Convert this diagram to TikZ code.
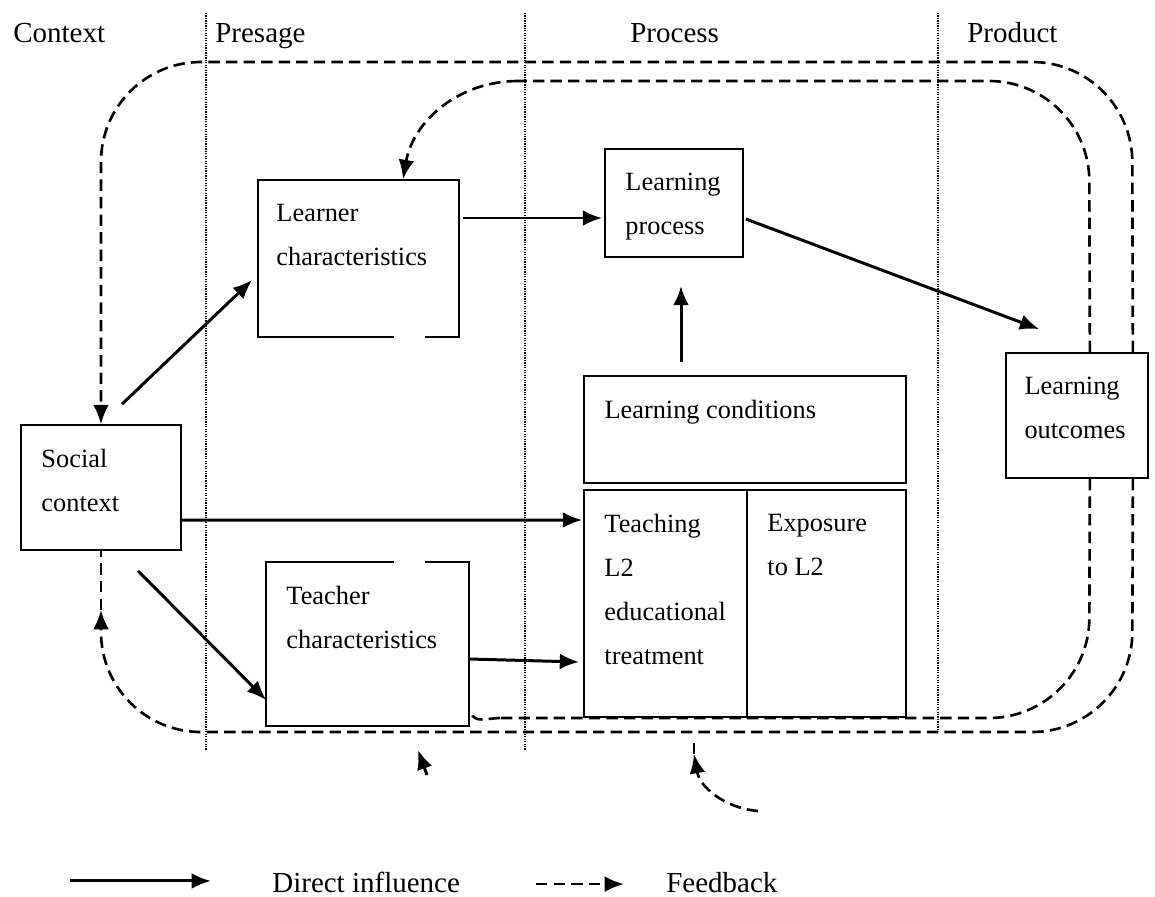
\documentclass[tikz,border=0pt]{standalone}
\usepackage{fontspec}
\setmainfont{Liberation Serif}
\usetikzlibrary{arrows.meta,calc,positioning}

\begin{document}
\begin{tikzpicture}[x=0.02cm,y=-0.02cm]
\tikzstyle{every node}=[font=\fontsize{15}{25}\selectfont]
\tikzstyle{box}=[draw, line width=1pt, inner sep=0pt]
\tikzstyle{boxtext}=[anchor=north west, inner sep=0pt, align=left]
\tikzstyle{heading}=[anchor=base west, inner sep=0pt, font=\fontsize{16.5}{20}\selectfont]
\tikzstyle{zone}=[line width=0.9pt, dash pattern=on 0.7pt off 0.7pt]
\tikzstyle{influence}=[line width=1.7pt, -{Latex[length=11pt,width=9pt]}]
\tikzstyle{feedback}=[line width=1.5pt, dash pattern=on 6.5pt off 3.5pt]
\tikzstyle{feedarrow}=[feedback, -{Latex[length=11pt,width=9pt]}]

\useasboundingbox (0,0) rectangle (1155,896);

% stages
\node[heading] (context) at (13,42) {Context};
\node[heading] (presage) at (215,42) {Presage};
\node[heading] (process) at (630,42) {Process};
\node[heading] (product) at (967,42) {Product};

\draw[zone] (206,13) -- (206,750);
\draw[zone] (525,13) -- (525,750);
\draw[zone] (938,13) -- (938,730);

% boxes
\node[box, minimum width=3.2cm, minimum height=2.5cm] at (101,487.5) (social) {};
\node[boxtext] at ($(social.north west)+(21,25)$) (socialtext) {Social\\context};

\node[box, minimum width=4.02cm, minimum height=3.14cm] at (358.5,258.5) (learner) {};
\node[boxtext] at ($(learner.north west)+(19,25)$) (learnertext) {Learner\\characteristics};
\draw[white, line width=3pt] (394,337) -- (425,337);

\node[box, minimum width=4.06cm, minimum height=3.28cm] at (367.5,644) (teacher) {};
\node[boxtext] at ($(teacher.north west)+(21,25)$) (teachertext) {Teacher\\characteristics};
\draw[white, line width=3pt] (394,562) -- (425,562);

\node[box, minimum width=2.76cm, minimum height=2.16cm] at (674,203) (lproc) {};
\node[boxtext] at ($(lproc.north west)+(21,25)$) (lproctext) {Learning\\process};

\node[box, minimum width=6.44cm, minimum height=2.14cm] at (745,429.5) (lcond) {};
\node[boxtext] at ($(lcond.north west)+(21,25)$) (lcondtext) {Learning conditions};

\node[box, minimum width=3.26cm, minimum height=4.54cm] at (665.5,603.5) (teach) {};
\node[boxtext] at ($(teach.north west)+(21,25)$) (teachtext) {Teaching\\L2\\educational\\treatment};

\node[box, minimum width=3.18cm, minimum height=4.54cm, right=-1pt of teach] (expo) {};
\node[boxtext] at ($(expo.north west)+(21,25)$) (expotext) {Exposure\\to L2};

\node[box, minimum width=2.84cm, minimum height=2.5cm] at (1077,415.5) (outcome) {};
\node[boxtext] at ($(outcome.north west)+(19,25)$) (outcometext) {Learning\\outcomes};

% direct influence
\draw[influence] ($(social.north)+(21,-20)$) -- ($(learner.west)+(-5,21.5)$);
\draw[influence] ($(social.south)+(37,20)$) -- ($(teacher.west)+(1,56)$);
\draw[influence] ($(social.east)+(0,32.5)$) -- ($(teach.west)+(-1,-83.5)$);
\draw[influence] ($(learner.east)+(3,-40.5)$) -- ($(lproc.west)+(-2,15)$);
\draw[influence] ($(lcond.north)+(-64,-13)$) -- ($(lproc.south)+(7,28)$);
\draw[influence] ($(lproc.east)+(2,16)$) -- ($(outcome.north west)+(34,-23)$);
\draw[influence] ($(teacher.east)+(0,15)$) -- ($(teach.west)+(-4,58.5)$);

% feedback loops
\draw[feedarrow, rounded corners=2cm] ($(outcome.north east)+(-16,0)$) -- (1132,62) -- (101,62) -- (social.north);
\coordinate (backsoc) at (101,610);
\draw[feedarrow, rounded corners=2cm] ($(outcome.south east)+(-16,0)$) -- (1132,732) -- (101,732) -- (backsoc);
\draw[feedback] (backsoc) -- (social.south);

\coordinate (innertop) at (518,81);
\draw[feedback, rounded corners=2cm] ($(outcome.north east)+(-59,0)$) -- (1089,81) -- (innertop);
\draw[feedarrow] (innertop) to[out=180,in=80] ($(learner.north)+(44.5,0)$);
\coordinate (backteach) at (500,718);
\draw[feedback, rounded corners=2cm] ($(outcome.south east)+(-59,0)$) -- (1089,718) -- (backteach);
\draw[feedback] (backteach) to[out=180,in=-70] ($(teacher.south east)+(1,-14)$);

\coordinate (stubstart) at (758,811);
\coordinate (stubtip) at (694,754);
\coordinate (stubend) at (694,740);
\draw[feedarrow] (stubstart) to[out=175,in=-80] (stubtip);
\draw[feedback] (stubtip) -- (stubend);

\coordinate (dartstart) at (427,775);
\coordinate (darttip) at (418,750);
\draw[influence] (dartstart) -- (darttip);

% legend
\node[heading] at (272,892) (directlbl) {Direct influence};
\draw[influence] ($(directlbl.west)+(-202,-1)$) -- ($(directlbl.west)+(-61,-1)$);
\node[heading] at (666,892) (feedbacklbl) {Feedback};
\draw[feedarrow] ($(feedbacklbl.west)+(-130,2)$) -- ($(feedbacklbl.west)+(-42,2)$);

\end{tikzpicture}
\end{document}
